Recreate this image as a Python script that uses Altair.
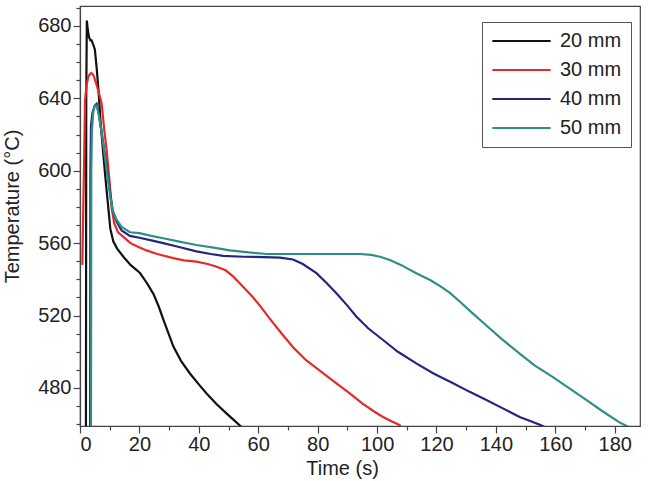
import altair as alt
import pandas as pd

# 20 mm (black)
t20 = [2.0, 2.1, 2.3, 2.6, 3.0, 3.5, 3.9, 4.6, 5.0, 5.6, 6.2, 7.0, 7.8, 8.5, 9.5, 10.2, 11.2, 12.5, 14.6, 17.0, 20.2, 22.5, 24.7, 26.5, 28.0, 31.4, 34.0, 37.0, 40.0, 42.6, 46.0, 49.3, 52.0, 54.0, 55.0]
T20 = [455, 640, 683, 678, 674, 672, 672, 669, 667, 657, 645, 625, 610, 597, 580, 568, 561, 557, 552.5, 548, 543.5, 538, 532, 525, 518, 503, 495, 488, 482, 477, 471, 466, 462, 459, 457]

# 30 mm (red)
t30 = [0.8, 1.0, 1.35, 1.7, 2.2, 2.8, 3.4, 3.9, 4.6, 5.3, 6.2, 7.3, 8.2, 9.0, 10.0, 10.6, 11.5, 12.8, 14.6, 17.0, 19.5, 22.4, 26.0, 31.4, 35.0, 39.2, 43.0, 46.0, 49.0, 51.6, 54.0, 56.0, 58.3, 61.0, 64.0, 68.4, 72.0, 76.0, 79.6, 84.0, 88.0, 90.8, 95.0, 99.0, 102.0, 105.0, 107.0, 108.0]
T30 = [548, 570, 602, 639, 647, 652, 653.5, 654, 652.5, 649, 644, 637, 622, 611, 593, 580, 571, 566, 563.5, 560, 558, 556, 554, 551.7, 550.5, 549.8, 548.5, 547, 545, 541.5, 537.5, 534, 530, 524.5, 518, 509, 502, 495.5, 491, 485.5, 480.5, 477, 471.5, 467, 464, 461.5, 460, 459]

# 40 mm (navy)
t40 = [3.4, 3.5, 3.7, 4.2, 5.0, 5.6, 6.3, 7.3, 8.2, 9.0, 10.0, 11.0, 12.3, 14.0, 16.8, 20.0, 24.0, 28.0, 33.0, 39.2, 44.0, 48.2, 55.0, 62.0, 67.3, 71.7, 75.0, 79.6, 83.0, 86.3, 90.0, 93.0, 97.0, 102.0, 107.0, 113.2, 119.0, 125.6, 131.0, 136.8, 142.0, 148.0, 152.0, 155.0, 157.0]
T40 = [455, 600, 625, 632, 636, 637, 632, 621, 611, 602, 590, 578, 572, 567, 564, 563, 561.5, 560, 558, 555.5, 554, 553, 552.5, 552.3, 552, 551, 548.5, 543.4, 538, 532.3, 525.5, 519.5, 513, 506.5, 500, 493.6, 488, 482.6, 478, 473.4, 469, 464, 461.5, 459.5, 458]

# 50 mm (teal)
t50 = [3.7, 3.8, 4.0, 4.5, 5.0, 5.6, 6.3, 7.3, 8.2, 9.0, 10.0, 11.0, 12.3, 14.0, 16.8, 20.0, 24.0, 28.0, 33.0, 39.2, 45.0, 50.4, 56.0, 62.8, 70.0, 80.0, 88.0, 94.2, 98.0, 101.0, 104.3, 108.0, 113.2, 118.0, 121.0, 124.5, 128.0, 132.0, 136.8, 142.0, 148.0, 153.0, 159.2, 165.0, 170.4, 176.0, 181.6, 184.0, 186.0]
T50 = [455, 600, 622, 633, 636, 636, 631, 621, 610, 600, 588, 578, 573, 569, 566, 565.5, 564, 562.7, 561, 559, 557.5, 556, 555, 554, 554, 554, 554, 554, 553.5, 552.5, 550.7, 548, 543.4, 539.5, 536.5, 532.5, 527.5, 521.5, 514.5, 507, 499, 492.5, 486, 479.5, 473.4, 467, 461, 459, 457.5]

series_names = ["20 mm", "30 mm", "40 mm", "50 mm"]
series_colors = ["#111111", "#e62a2a", "#25257f", "#2f8f85"]

frames = []
for name, ts, Ts in zip(series_names, [t20, t30, t40, t50], [T20, T30, T40, T50]):
    frames.append(pd.DataFrame({"time": ts, "temp": Ts, "series": name, "order": range(len(ts))}))
df = pd.concat(frames, ignore_index=True)

x_ticks = list(range(0, 190, 10))
y_ticks = list(range(460, 691, 10))

chart = alt.Chart(df).mark_line(strokeWidth=2.2, clip=True).encode(
    x=alt.X("time:Q",
            scale=alt.Scale(domain=[0, 188.5], nice=False, zero=False),
            axis=alt.Axis(title="Time  (s)", values=x_ticks,
                          labelExpr="datum.value % 20 === 0 ? datum.label : ''",
                          tickSize={"condition": {"test": "datum.value % 20 === 0", "value": 7}, "value": 4},
                          grid=False, labelPadding=1, titlePadding=4, titleX=262)),
    y=alt.Y("temp:Q",
            scale=alt.Scale(domain=[459, 691], nice=False, zero=False),
            axis=alt.Axis(title="Temperature  (°C)", values=y_ticks,
                          labelExpr="datum.value % 40 === 0 ? datum.label : ''",
                          tickSize={"condition": {"test": "datum.value % 40 === 0", "value": 7}, "value": 4},
                          grid=False, labelPadding=2, titleX=-58, titleY=200, titleBaseline="bottom")),
    color=alt.Color("series:N",
                    scale=alt.Scale(domain=series_names, range=series_colors),
                    legend=alt.Legend(title=None, orient="none", legendX=402, legendY=16,
                                      symbolType="stroke", symbolSize=3400, symbolStrokeWidth=2,
                                      labelFontSize=20, labelFont="Liberation Sans", labelColor="#222",
                                      strokeColor="#555", padding=9, rowPadding=9, clipHeight=20,
                                      labelOffset=8)),
    order="order:Q",
).properties(
    width=560, height=420,
    autosize=alt.AutoSizeParams(type="none"),
    padding={"left": 80, "top": 6, "right": 13, "bottom": 55},
).configure_view(
    stroke="#444", strokeWidth=1.2
).configure_axis(
    labelFont="Liberation Sans", titleFont="Liberation Sans",
    labelFontSize=20, titleFontSize=20, titleFontWeight="normal",
    labelColor="#222", titleColor="#222",
    domainColor="#444", tickColor="#444", domainWidth=1.2, tickWidth=1.2,
)

chart.save("out.html", embed_options={"renderer": "svg", "actions": False})
